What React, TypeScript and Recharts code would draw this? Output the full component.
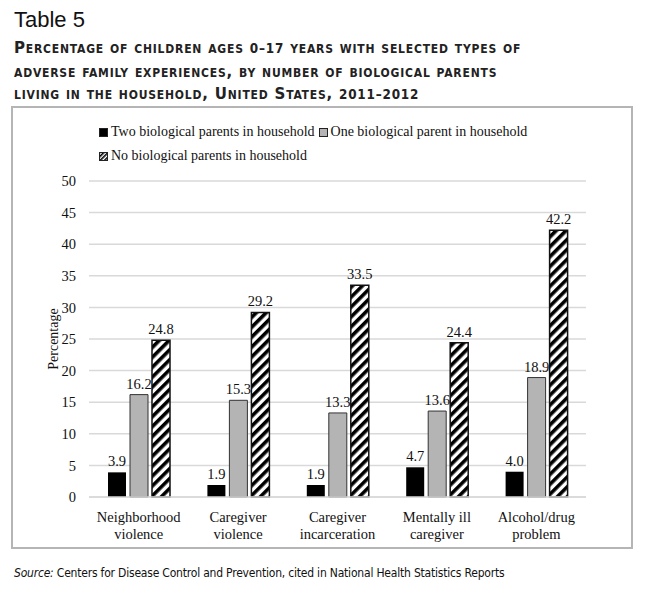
import { BarChart, Bar, XAxis, YAxis, CartesianGrid, LabelList } from 'recharts';

const categories = [
    ['Neighborhood', 'violence'],
    ['Caregiver', 'violence'],
    ['Caregiver', 'incarceration'],
    ['Mentally ill', 'caregiver'],
    ['Alcohol/drug', 'problem'],
];
const twoParents = [3.9, 1.9, 1.9, 4.7, 4.0];
const oneParent = [16.2, 15.3, 13.3, 13.6, 18.9];
const noParents = [24.8, 29.2, 33.5, 24.4, 42.2];
const yTicks = [0, 5, 10, 15, 20, 25, 30, 35, 40, 45, 50];

const seriesNames = [
    'Two biological parents in household',
    'One biological parent in household',
    'No biological parents in household',
];

const data = categories.map((c, i) => ({
    name: c.join('\n'),
    two: twoParents[i],
    one: oneParent[i],
    none: noParents[i],
}));

const serif = '"Liberation Serif", "DejaVu Serif", serif';
const narrow = '"DejaVu Sans Condensed", "Liberation Sans", sans-serif';

const CategoryTick = ({ x, y, payload }: any) => {
    const lines = String(payload.value).split('\n');
    return (
        <text x={x} y={y} textAnchor="middle" fontFamily={serif} fontSize={14.5} fill="#111">
            {lines.map((l, i) => (
                <tspan key={i} x={x} dy={17}>{l}</tspan>
            ))}
        </text>
    );
};

const Swatch = ({ kind }: { kind: number }) => {
    const fill = kind === 0 ? '#000' : kind === 1 ? '#b4b4b4' : 'url(#hatchLegend)';
    return (
        <svg width={9} height={9} style={{ marginRight: 3, verticalAlign: 'middle' }}>
            <defs>
                <pattern id="hatchLegend" width="3" height="3" patternUnits="userSpaceOnUse" patternTransform="rotate(45)">
                    <rect width="3" height="3" fill="#fff" />
                    <rect width="1.6" height="3" fill="#000" />
                </pattern>
            </defs>
            <rect x={0.5} y={0.5} width={8} height={8} fill={fill} stroke="#222" strokeWidth={1} />
        </svg>
    );
};

// old-style looking numerals in the small-caps heading
const Num = ({ children }: any) => <span style={{ fontSize: '0.8em' }}>{children}</span>;

const fmt = (v: any) => Number(v).toFixed(1);
const labelStyle = { fontFamily: serif, fontSize: 14.5, fill: '#111' };

export default function App() {
    return (
        <div style={{ position: 'absolute', left: 0, top: 0, width: 645, height: 595, background: '#fff' }}>
            {/* Header */}
            <div style={{ position: 'absolute', left: 14, top: 7, fontFamily: '"Liberation Sans", Arial, sans-serif', fontSize: 22, color: '#111' }}>
                Table 5
            </div>
            <div
                style={{
                    position: 'absolute',
                    left: 14,
                    top: 36,
                    fontFamily: narrow,
                    fontWeight: 700,
                    fontSize: 16.7,
                    fontVariant: 'small-caps',
                    letterSpacing: 0.8,
                    lineHeight: '22px',
                    color: '#222',
                }}
            >
                <div>Percentage of children ages <Num>0–17</Num> years with selected types of</div>
                <div>adverse family experiences, by number of biological parents</div>
                <div>living in the household, United States, <Num>2011–2012</Num></div>
            </div>

            {/* Chart box */}
            <div style={{ position: 'absolute', left: 11, top: 106, width: 618, height: 439, border: '2px solid #b5b5b5' }}>
                <BarChart
                    width={618}
                    height={439}
                    data={data}
                    margin={{ top: 73, right: 45, left: 22, bottom: 2 }}
                    barSize={18}
                    barGap={4}
                >
                    <defs>
                        <pattern id="hatch" width="7" height="7" patternUnits="userSpaceOnUse" patternTransform="rotate(45)">
                            <rect width="7" height="7" fill="#fff" />
                            <rect width="3.6" height="7" fill="#000" />
                        </pattern>
                    </defs>
                    <CartesianGrid vertical={false} stroke="#d9d9d9" strokeWidth={1.5} />
                    <XAxis
                        dataKey="name"
                        axisLine={{ stroke: '#d9d9d9', strokeWidth: 1.5 }}
                        tickLine={false}
                        interval={0}
                        height={48}
                        tick={<CategoryTick />}
                    />
                    <YAxis
                        domain={[0, 50]}
                        ticks={yTicks}
                        axisLine={false}
                        tickLine={false}
                        width={54}
                        tickMargin={7}
                        tick={{ fontFamily: serif, fontSize: 14.5, fill: '#111' }}
                        label={{ value: 'Percentage', angle: -90, position: 'insideLeft', offset: 18, style: { fontFamily: serif, fontSize: 14, fill: '#111', textAnchor: 'middle' } }}
                    />
                    <Bar dataKey="two" name={seriesNames[0]} fill="#000" isAnimationActive={false}>
                        <LabelList dataKey="two" position="top" offset={6} formatter={fmt} style={labelStyle} />
                    </Bar>
                    <Bar dataKey="one" name={seriesNames[1]} fill="#b4b4b4" stroke="#333" strokeWidth={1} isAnimationActive={false}>
                        <LabelList dataKey="one" position="top" offset={6} formatter={fmt} style={labelStyle} />
                    </Bar>
                    <Bar dataKey="none" name={seriesNames[2]} fill="url(#hatch)" stroke="#111" strokeWidth={1.5} isAnimationActive={false}>
                        <LabelList dataKey="none" position="top" offset={6} formatter={fmt} style={labelStyle} />
                    </Bar>
                </BarChart>
                {/* Legend */}
                <div style={{ position: 'absolute', left: 86, top: 12, fontFamily: serif, fontSize: 14, color: '#111', lineHeight: '24px' }}>
                    <div>
                        <span style={{ marginRight: 4 }}><Swatch kind={0} />{seriesNames[0]}</span>
                        <span><Swatch kind={1} />{seriesNames[1]}</span>
                    </div>
                    <div><Swatch kind={2} />{seriesNames[2]}</div>
                </div>
            </div>

            {/* Source */}
            <div style={{ position: 'absolute', left: 14, top: 566, fontFamily: narrow, fontSize: 12, letterSpacing: -0.2, color: '#111' }}>
                <i>Source:</i> Centers for Disease Control and Prevention, cited in National Health Statistics Reports
            </div>
        </div>
    );
}
